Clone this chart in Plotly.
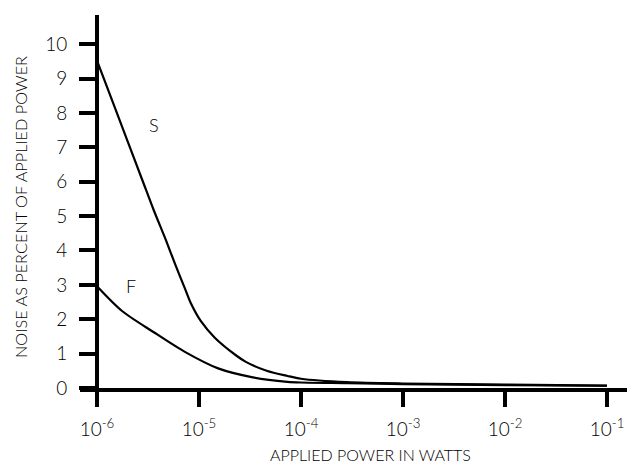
import plotly.graph_objects as go

# Data
s_power = [1e-6, 1.5e-6, 2.78e-6, 3.57e-6, 4.74e-6, 5.87e-6, 7.27e-6, 8.37e-6, 1.04e-5, 1.42e-5,
           2.28e-5, 2.88e-5, 4.6e-5, 7.36e-5, 1e-4, 2.83e-4, 1e-3, 1e-2, 1e-1]
s_noise = [9.52, 8.15, 6.05, 5.2, 4.3, 3.58, 2.90, 2.45, 1.95, 1.47,
           0.96, 0.76, 0.50, 0.35, 0.27, 0.17, 0.13, 0.10, 0.07]

f_power = [1e-6, 1.76e-6, 3.57e-6, 7.27e-6, 1.54e-5, 3.37e-5, 7.36e-5, 1e-4, 2.83e-4, 1e-3, 1e-2, 1e-1]
f_noise = [2.96, 2.24, 1.63, 1.05, 0.57, 0.31, 0.18, 0.16, 0.14, 0.115, 0.085, 0.065]

x_tickvals = [1e-6, 1e-5, 1e-4, 1e-3, 1e-2, 1e-1]
x_ticktext = ["10<sup>-6</sup>", "10<sup>-5</sup>", "10<sup>-4</sup>", "10<sup>-3</sup>", "10<sup>-2</sup>", "10<sup>-1</sup>"]
y_tickvals = list(range(0, 11))

FONT = "Lato"
W = 300

fig = go.Figure()
for xs, ys in [(s_power, s_noise), (f_power, f_noise)]:
    fig.add_trace(go.Scatter(x=xs, y=ys, mode="lines",
                             line=dict(color="black", width=2.2, shape="spline", smoothing=0.8),
                             showlegend=False, hoverinfo="skip"))

fig.add_annotation(x=-5.444, y=7.65, xref="x", yref="y", text="S", showarrow=False,
                   font=dict(family=FONT, size=18, color="black", weight=W))
fig.add_annotation(x=-5.667, y=2.97, xref="x", yref="y", text="F", showarrow=False,
                   font=dict(family=FONT, size=18, color="black", weight=W))

fig.add_annotation(x=(20 - 80) / 547, y=(388 - 207) / 373, xref="paper", yref="paper",
                   text="NOISE AS PERCENT OF APPLIED POWER", textangle=-90, showarrow=False,
                   xanchor="center", yanchor="middle",
                   font=dict(family=FONT, size=16.3, color="black", weight=W))
fig.add_annotation(x=(370 - 80) / 547, y=(388 - 455) / 373, xref="paper", yref="paper",
                   text="APPLIED POWER IN WATTS", showarrow=False,
                   xanchor="center", yanchor="middle",
                   font=dict(family=FONT, size=16, color="black", weight=W))

fig.update_layout(
    width=644, height=470,
    margin=dict(l=80, r=17, t=15, b=82),
    paper_bgcolor="white", plot_bgcolor="white",
    xaxis=dict(type="log", range=[-6.1667, -0.804], showgrid=False, zeroline=False,
               showline=True, linecolor="black", linewidth=4,
               ticks="outside", ticklen=15, tickwidth=4, tickcolor="black",
               tickvals=x_tickvals, ticktext=x_ticktext, ticklabelstandoff=6,
               tickfont=dict(family=FONT, size=19, color="black", weight=W)),
    yaxis=dict(range=[0, 10.85], anchor="free", position=17 / 547,
               showgrid=False, zeroline=False,
               showline=True, linecolor="black", linewidth=4,
               ticks="outside", ticklen=16, tickwidth=4, tickcolor="black",
               tickvals=y_tickvals, ticklabelstandoff=8,
               tickfont=dict(family=FONT, size=19, color="black", weight=W)),
)

fig.write_html("out.html")
